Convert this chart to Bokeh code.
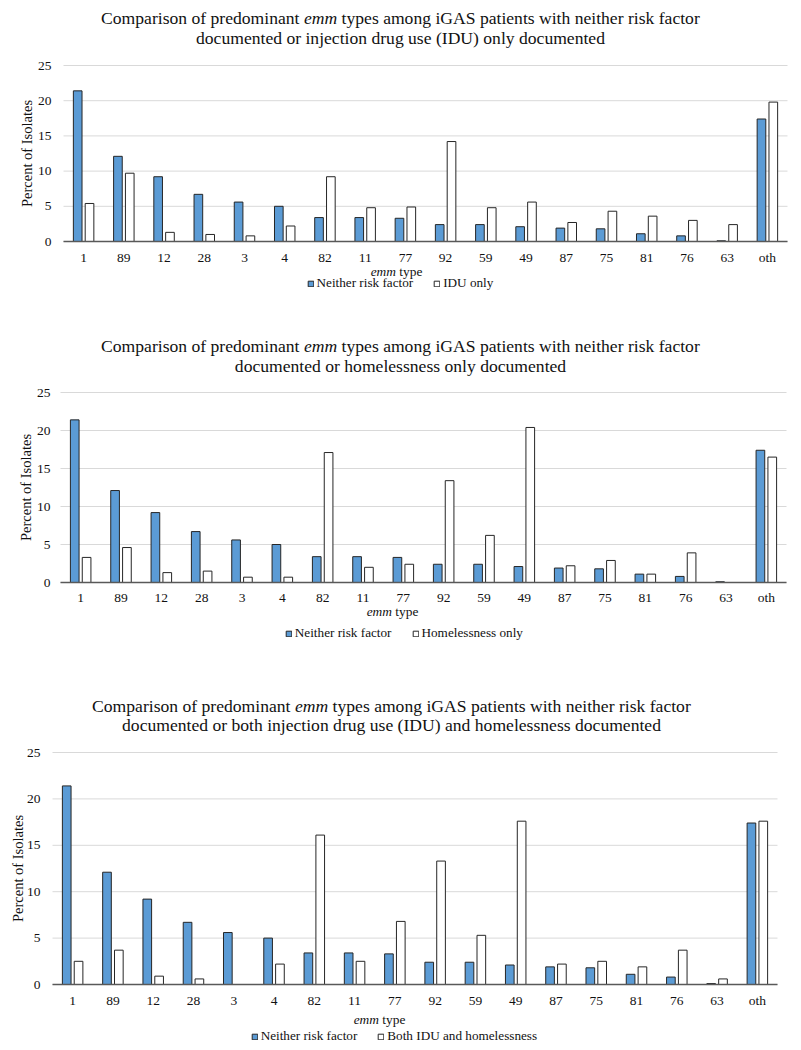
import math
from bokeh.plotting import figure
from bokeh.models import (Range1d, Label, Legend, LegendItem, FixedTicker,
                          ColumnDataSource, LinearAxis)
from bokeh.transform import dodge
from bokeh.layouts import column
from bokeh.embed import file_html
from bokeh.resources import INLINE

# ---------------- data ----------------
emm_types = ["1", "89", "12", "28", "3", "4", "82", "11", "77", "92",
             "59", "49", "87", "75", "81", "76", "63", "oth"]
neither = [21.4, 12.1, 9.2, 6.7, 5.6, 5.0, 3.4, 3.4, 3.3, 2.4,
           2.4, 2.1, 1.9, 1.8, 1.1, 0.8, 0.1, 17.4]
idu_only = [5.4, 9.7, 1.3, 1.0, 0.8, 2.2, 9.2, 4.8, 4.9, 14.2,
            4.8, 5.6, 2.7, 4.3, 3.6, 3.0, 2.4, 19.8]
homeless_only = [3.3, 4.6, 1.3, 1.5, 0.7, 0.7, 17.1, 2.0, 2.4, 13.4,
                 6.2, 20.4, 2.2, 2.9, 1.1, 3.9, 0.0, 16.5]
both = [2.5, 3.7, 0.9, 0.6, 0.0, 2.2, 16.1, 2.5, 6.8, 13.3,
        5.3, 17.6, 2.2, 2.5, 1.9, 3.7, 0.6, 17.6]

y_ticks = [0, 5, 10, 15, 20, 25]
y_label = "Percent of Isolates"
title_pre = "Comparison of predominant"
title_ital = "emm"
title_post = "types among iGAS patients with neither risk factor"
titles2 = ["documented or injection drug use (IDU) only documented",
           "documented or homelessness only documented",
           "documented or both injection drug use (IDU) and homelessness documented"]
x_title_ital = "emm"
x_title_rest = "type"
legend_neither = "Neither risk factor"
legend_other = ["IDU only", "Homelessness only", "Both IDU and homelessness"]
series_other = [idu_only, homeless_only, both]

FONT = "Liberation Serif"
BLUE = "#5b9bd5"
EDGE = "#262626"
TXT = "#111111"

# Times / Liberation Serif advance widths (per 1000 em)
W = {" ": 250, "(": 333, ")": 333, "A": 722, "B": 667, "C": 667, "D": 722,
     "G": 722, "H": 722, "I": 333, "N": 722, "S": 556, "U": 722,
     "a": 444, "b": 500, "c": 444, "d": 500, "e": 444, "f": 333, "g": 500,
     "h": 500, "i": 278, "j": 278, "k": 500, "l": 278, "m": 778, "n": 500,
     "o": 500, "p": 500, "r": 333, "s": 389, "t": 278, "u": 500, "v": 500,
     "w": 722, "x": 500, "y": 500}
WI = {"e": 444, "m": 722}


def tw(s, size, italic=False):
    table = WI if italic else W
    return sum(table.get(ch, 500) for ch in s) * size / 1000.0


# geometry per chart (window coordinates)
geo = [
    dict(top=0, bottom=300, ftop=65, fbot=241, fleft=63, fright=787,
         t1=17, t2=37, tc=400, emm_y=271, emm_x=396, leg_y=283, leg_x=400,
         ylab_x=26, ystand=12, xstand=8),
    dict(top=300, bottom=655, ftop=392, fbot=582, fleft=60, fright=786,
         t1=345, t2=365, tc=400, emm_y=611, emm_x=392, leg_y=633, leg_x=404,
         ylab_x=25.5, ystand=10, xstand=7),
    dict(top=655, bottom=1045, ftop=752, fbot=984, fleft=52, fright=777,
         t1=705, t2=724, tc=391, emm_y=1019, emm_x=379, leg_y=1036, leg_x=394,
         ylab_x=17, ystand=12, xstand=8),
]

FIG_W = 800
PAGE_L = 0
n = len(emm_types)
xc = [i + 0.5 for i in range(n)]
plots = []
for k in range(3):
    g = geo[k]
    height = g["bottom"] - g["top"]
    fw = g["fright"] - g["fleft"]
    fh = g["fbot"] - g["ftop"]
    # full-canvas frame; plot area 0..n x 0..25 sits inside it
    x0 = -(g["fleft"] - PAGE_L) * n / fw
    x1 = n + (PAGE_L + FIG_W - g["fright"]) * n / fw
    y0 = -(g["bottom"] - g["fbot"]) * 25.0 / fh
    y1 = 25 + (g["ftop"] - g["top"]) * 25.0 / fh

    src = ColumnDataSource(dict(xc=xc, a=neither, b=series_other[k]))
    p = figure(width=FIG_W, height=height,
               x_range=Range1d(x0, x1), y_range=Range1d(y0, y1),
               output_backend="svg", toolbar_location=None,
               x_axis_location=None, y_axis_location=None,
               min_border_left=0, min_border_right=0,
               min_border_top=0, min_border_bottom=0, title=None)
    p.outline_line_color = None
    p.xgrid.visible = False
    p.ygrid.visible = False

    # horizontal gridlines over the plot area
    p.segment(x0=[0] * len(y_ticks), x1=[n] * len(y_ticks), y0=y_ticks,
              y1=y_ticks, line_color="#d9d9d9", line_width=1)

    r1 = p.vbar(x=dodge("xc", -0.147), top="a", width=0.215, source=src,
                fill_color=BLUE, line_color=EDGE, line_width=1)
    r2 = p.vbar(x=dodge("xc", 0.147), top="b", width=0.215, source=src,
                fill_color="white", line_color=EDGE, line_width=1)

    # y axis fixed at the plot-area left edge
    ya = LinearAxis(fixed_location=0, bounds=(0, 25),
                    ticker=FixedTicker(ticks=y_ticks))
    ya.axis_line_color = None
    ya.major_tick_line_color = None
    ya.minor_tick_line_color = None
    ya.major_tick_in = 0
    ya.major_tick_out = 0
    ya.major_label_standoff = g["ystand"]
    ya.major_label_text_font = FONT
    ya.major_label_text_font_size = "13.5px"
    ya.major_label_text_color = TXT
    p.add_layout(ya, "left")

    # x axis fixed at y = 0
    xa = LinearAxis(fixed_location=0, bounds=(0, n),
                    ticker=FixedTicker(ticks=xc),
                    major_label_overrides={c: lab for c, lab in zip(xc, emm_types)})
    xa.axis_line_color = "#595959"
    xa.axis_line_width = 1.5
    xa.major_tick_line_color = None
    xa.minor_tick_line_color = None
    xa.major_tick_in = 0
    xa.major_tick_out = 0
    xa.major_label_standoff = g["xstand"]
    xa.major_label_text_font = FONT
    xa.major_label_text_font_size = "13.5px"
    xa.major_label_text_color = TXT
    p.add_layout(xa, "below")

    def add_lbl(text, xpage, ypage, size, italic=False, align="left", angle=0.0):
        p.add_layout(Label(x=xpage - PAGE_L, y=g["bottom"] - ypage,
                           x_units="screen", y_units="screen", text=text,
                           text_font=FONT, text_font_size=f"{size}px",
                           text_font_style="italic" if italic else "normal",
                           text_color=TXT, text_align=align,
                           text_baseline="middle", angle=angle))

    # ---- title (two lines, "emm" in italics) ----
    fs = 17.6
    w_pre = tw(title_pre + " ", fs)
    w_it = tw(title_ital, fs, italic=True)
    w_post = tw(" " + title_post, fs)
    tx0 = g["tc"] - (w_pre + w_it + w_post) / 2.0
    add_lbl(title_pre, tx0, g["t1"], fs)
    add_lbl(title_ital, tx0 + w_pre, g["t1"], fs, italic=True)
    add_lbl(title_post, tx0 + w_pre + w_it + tw(" ", fs), g["t1"], fs)
    add_lbl(titles2[k], g["tc"], g["t2"], fs, align="center")

    # ---- y axis title ----
    add_lbl(y_label, g["ylab_x"], (g["ftop"] + g["fbot"]) / 2.0, 14.5,
            align="center", angle=math.pi / 2)

    # ---- x axis title: "emm type" ----
    es = 13.4
    ew = tw(x_title_ital, es, True) + tw(" " + x_title_rest, es)
    ex0 = g["emm_x"] - ew / 2.0
    add_lbl(x_title_ital, ex0, g["emm_y"], es, italic=True)
    add_lbl(x_title_rest, ex0 + tw(x_title_ital, es, True) + tw(" ", es),
            g["emm_y"], es)

    # ---- legend ----
    ls = 13.2
    gw, lst, sp, lh = 7, 3, 20, 16
    lw = (gw + lst + tw(legend_neither, ls)) + sp + (gw + lst + tw(legend_other[k], ls))
    lx = g["leg_x"] - lw / 2.0 - PAGE_L
    ly = g["bottom"] - (g["leg_y"] + lh / 2.0)
    leg = Legend(items=[LegendItem(label=legend_neither, renderers=[r1]),
                        LegendItem(label=legend_other[k], renderers=[r2])],
                 orientation="horizontal", location=(lx, ly),
                 border_line_color=None, background_fill_alpha=0,
                 glyph_width=gw, glyph_height=gw, label_standoff=lst,
                 spacing=sp, padding=0, margin=0, label_height=lh,
                 label_text_font=FONT, label_text_font_size=f"{ls}px",
                 label_text_color=TXT, label_text_baseline="middle")
    p.add_layout(leg, "center")
    plots.append(p)

layout = column(*plots, spacing=0)
open("out.html", "w").write(file_html(layout, INLINE))
